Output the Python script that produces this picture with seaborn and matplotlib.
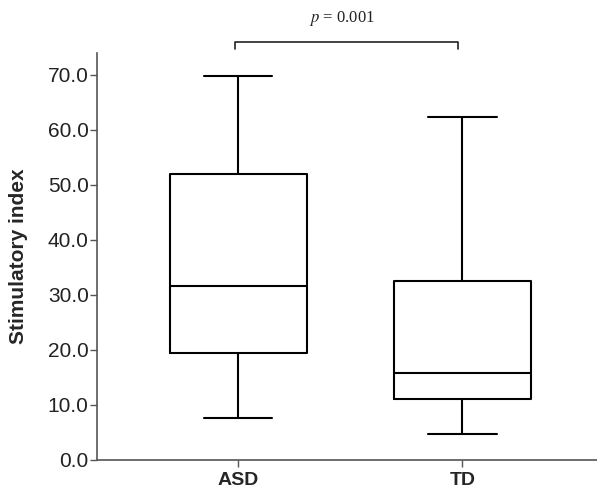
import matplotlib
matplotlib.use("Agg")
import matplotlib.pyplot as plt
import pandas as pd
import seaborn as sns
from matplotlib.ticker import FormatStrFormatter

# five-number summaries: min, q1, median, q3, max
groups = ["ASD", "TD"]
asd_summary = [7.6, 19.5, 31.6, 52.0, 69.8]
td_summary = [4.7, 11.0, 15.8, 32.5, 62.3]
p_label = r"$p$ = 0.001"
y_ticks = [0, 10, 20, 30, 40, 50, 60, 70]

df = pd.DataFrame({
    "group": [groups[0]] * len(asd_summary) + [groups[1]] * len(td_summary),
    "value": asd_summary + td_summary,
})

sns.set_style("ticks")
plt.rcParams["font.family"] = ["Liberation Sans", "DejaVu Sans"]
plt.rcParams["mathtext.fontset"] = "stix"

fig = plt.figure(figsize=(5.97, 4.94), dpi=100)
ax = fig.add_axes([0.1625, 0.069, 0.8375, 0.824])

sns.boxplot(data=df, x="group", y="value", order=groups, whis=(0, 100),
            width=0.61, fill=False, color="black", linecolor="#222222",
            linewidth=1.5, ax=ax)

ax.set_xlim(-0.63, 1.6)
ax.set_ylim(0, 74)
ax.set_yticks(y_ticks)
ax.yaxis.set_major_formatter(FormatStrFormatter("%.1f"))
ax.tick_params(axis="y", labelsize=15, length=5, width=1, color="#555555",
               labelcolor="#222222", pad=1)
ax.tick_params(axis="x", labelsize=14, length=5, width=1, color="#555555")
for lab in ax.get_xticklabels():
    lab.set_fontweight("bold")
ax.set_xlabel("")
ax.set_ylabel("Stimulatory index", fontsize=15, fontweight="bold")
ax.yaxis.set_label_coords(-0.138, 0.5)
sns.despine(ax=ax)
for side in ["left", "bottom"]:
    ax.spines[side].set_color("#555555")
    ax.spines[side].set_linewidth(1.2)

# significance bracket
y_br = 76.0
x0, x1 = 0.0 - 0.015, 1.0 - 0.02
ax.plot([x0, x0, x1, x1], [y_br - 1.3, y_br, y_br, y_br - 1.3],
        color="#222222", linewidth=1.2, clip_on=False)
ax.text((x0 + x1) / 2 - 0.02, y_br + 2.6, p_label, ha="center", va="bottom",
        fontsize=12, family="Liberation Serif", color="#222222")

fig.savefig("out.png", dpi=100)
